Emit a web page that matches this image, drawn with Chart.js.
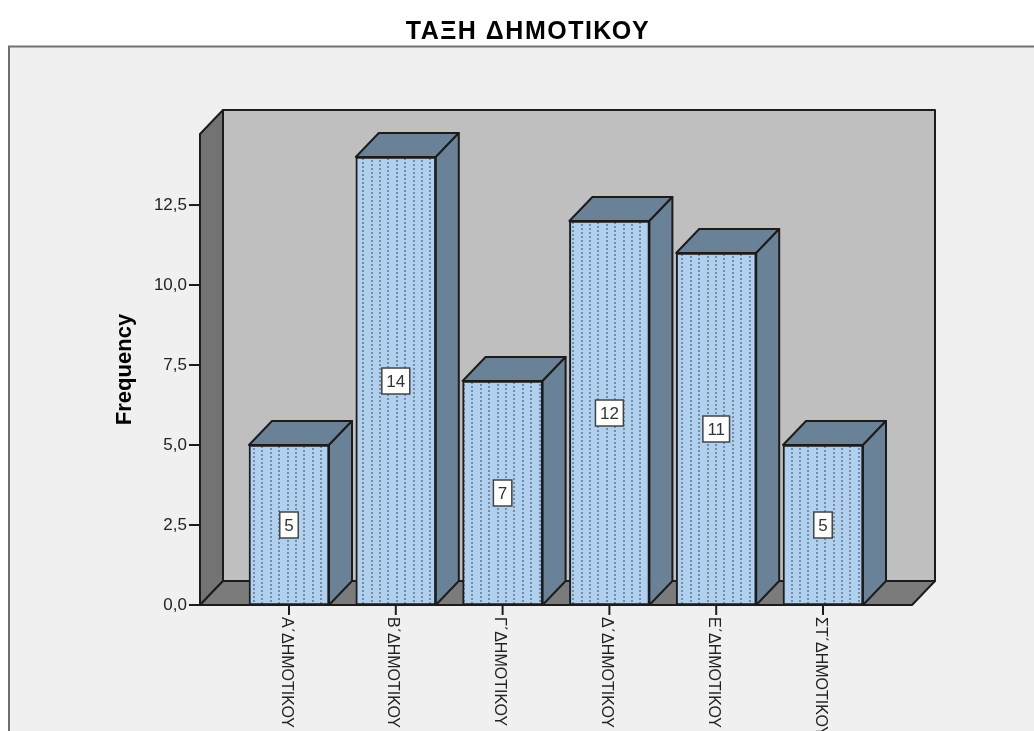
<!DOCTYPE html>
<html lang="el">
<head>
  <meta charset="UTF-8">
  <title>ΤΑΞΗ ΔΗΜΟΤΙΚΟΥ</title>
  <style>
    body { margin: 0; background: #ffffff; overflow: hidden; }
    canvas { display: block; }
  </style>
  <script src="https://cdn.jsdelivr.net/npm/chart.js"></script>
</head>
<body>
  <canvas id="chart" width="1034" height="731"></canvas>
  <script>
    const categories = ['Α΄ΔΗΜΟΤΙΚΟΥ', 'Β΄ΔΗΜΟΤΙΚΟΥ', 'Γ΄ΔΗΜΟΤΙΚΟΥ', 'Δ΄ΔΗΜΟΤΙΚΟΥ', 'Ε΄ΔΗΜΟΤΙΚΟΥ', 'ΣΤ΄ΔΗΜΟΤΙΚΟΥ'];
    const frequencies = [5, 14, 7, 12, 11, 5];
    const yTicks = [0, 2.5, 5, 7.5, 10, 12.5];
    const yMax = 14.72;

    const fontFamily = '"Liberation Sans", Arial, sans-serif';
    const ink = '#1c1c1c';
    const depthX = 23, depthY = 24, wallInset = 35.6;

    // dotted fill of the bar fronts
    function dotPattern(ctx) {
      const tile = document.createElement('canvas');
      tile.width = 42;
      tile.height = 8;
      const t = tile.getContext('2d');
      t.fillStyle = '#afd1ef';
      t.fillRect(0, 0, 42, 8);
      t.fillStyle = '#7a8ca0';
      [1, 9, 18, 26, 35].forEach((x, i) => {
        const off = i % 2 ? 2 : 0;
        t.fillRect(x, off, 2, 2);
        t.fillRect(x, off + 4, 2, 2);
      });
      return ctx.createPattern(tile, 'repeat');
    }

    function poly(ctx, pts, fill) {
      ctx.beginPath();
      pts.forEach((p, i) => i ? ctx.lineTo(p[0], p[1]) : ctx.moveTo(p[0], p[1]));
      ctx.closePath();
      ctx.fillStyle = fill;
      ctx.fill();
      ctx.stroke();
    }

    const panelPlugin = {
      id: 'panel',
      afterLayout(chart) {
        // the title in the picture is set wider than the font's own spacing
        const block = chart.titleBlock;
        const drawTitle = block.draw;
        block.draw = function () {
          chart.ctx.letterSpacing = '1.5px';
          drawTitle.call(block);
          chart.ctx.letterSpacing = '0px';
        };
      },
      beforeDraw(chart) {
        const ctx = chart.ctx;
        ctx.save();
        ctx.fillStyle = '#f0f0f0';
        ctx.fillRect(9, 46, 1040, 700);
        ctx.strokeStyle = '#707070';
        ctx.lineWidth = 2;
        ctx.strokeRect(9, 46.5, 1040, 700);
        ctx.restore();
      }
    };

    const box3dPlugin = {
      id: 'box3d',
      beforeDatasetsDraw(chart) {
        const ctx = chart.ctx;
        const a = chart.chartArea;
        const yScale = chart.scales.y;
        const xScale = chart.scales.x;
        const y0 = yScale.getPixelForValue(0);
        const yTop = yScale.getPixelForValue(yMax);
        const l = a.left - wallInset, r = a.right + wallInset;

        ctx.save();
        ctx.strokeStyle = ink;
        ctx.lineWidth = 2;
        ctx.lineJoin = 'round';

        // back wall, left wall, floor
        poly(ctx, [[l + depthX, yTop - depthY], [r + depthX, yTop - depthY], [r + depthX, y0 - depthY], [l + depthX, y0 - depthY]], '#bfbfbf');
        poly(ctx, [[l, yTop], [l + depthX, yTop - depthY], [l + depthX, y0 - depthY], [l, y0]], '#737373');
        poly(ctx, [[l, y0], [l + depthX, y0 - depthY], [r + depthX, y0 - depthY], [r, y0]], '#7b7b7b');

        // axis ticks
        yTicks.forEach(v => {
          const py = yScale.getPixelForValue(v);
          ctx.beginPath();
          ctx.moveTo(l - 11, py);
          ctx.lineTo(l, py);
          ctx.stroke();
        });
        categories.forEach((c, i) => {
          const px = xScale.getPixelForValue(i);
          ctx.beginPath();
          ctx.moveTo(px, y0);
          ctx.lineTo(px, y0 + 10);
          ctx.stroke();
        });

        // bar tops and right sides
        chart.getDatasetMeta(0).data.forEach(bar => {
          const right = bar.x + bar.width / 2, left = bar.x - bar.width / 2;
          poly(ctx, [[left, bar.y], [left + depthX, bar.y - depthY], [right + depthX, bar.y - depthY], [right, bar.y]], '#6a8298');
          poly(ctx, [[right, bar.y], [right + depthX, bar.y - depthY], [right + depthX, y0 - depthY], [right, y0]], '#6a8298');
        });
        ctx.restore();
      }
    };

    const valueBoxPlugin = {
      id: 'valueBox',
      afterDatasetsDraw(chart) {
        const ctx = chart.ctx;
        const y0 = chart.scales.y.getPixelForValue(0);
        ctx.save();
        ctx.font = '17px ' + fontFamily;
        ctx.textAlign = 'center';
        ctx.textBaseline = 'middle';
        chart.getDatasetMeta(0).data.forEach((bar, i) => {
          const text = String(frequencies[i]);
          const w = ctx.measureText(text).width + 9;
          const cy = (bar.y + y0) / 2;
          ctx.fillStyle = '#ffffff';
          ctx.strokeStyle = '#444444';
          ctx.lineWidth = 1.5;
          ctx.fillRect(bar.x - w / 2, cy - 13, w, 26);
          ctx.strokeRect(bar.x - w / 2, cy - 13, w, 26);
          ctx.fillStyle = '#333333';
          ctx.fillText(text, bar.x, cy + 1);
        });
        ctx.restore();
      }
    };

    const ctx = document.getElementById('chart').getContext('2d');
    new Chart(ctx, {
      type: 'bar',
      data: {
        labels: categories,
        datasets: [{
          data: frequencies,
          backgroundColor: dotPattern(ctx),
          borderColor: ink,
          borderWidth: 2,
          borderSkipped: false,
          barThickness: 80
        }]
      },
      options: {
        responsive: false,
        animation: false,
        layout: { padding: { left: 22 } },
        plugins: {
          legend: { display: false },
          tooltip: { enabled: false },
          title: {
            display: true,
            text: 'ΤΑΞΗ ΔΗΜΟΤΙΚΟΥ',
            color: '#000000',
            font: { family: fontFamily, size: 25, weight: 'bold' },
            padding: { top: 17, bottom: 87 }
          }
        },
        scales: {
          x: {
            grid: { display: false, drawTicks: false },
            border: { display: false },
            ticks: {
              autoSkip: false,
              minRotation: -90,
              maxRotation: -90,
              padding: 12,
              labelOffset: -3,
              color: '#222222',
              font: { family: fontFamily, size: 16 }
            },
            afterFit: s => {
              s.height = 126;
              // labels read downwards from the axis, so they start at the tick
              s._getXAxisLabelAlignment = () => 'left';
            }
          },
          y: {
            min: 0,
            max: yMax,
            grid: { display: false, drawTicks: false },
            border: { display: false },
            afterBuildTicks: s => { s.ticks = yTicks.map(value => ({ value })); },
            ticks: {
              padding: 48.6,
              color: '#222222',
              font: { family: fontFamily, size: 17 },
              callback: v => v.toFixed(1).replace('.', ',')
            },
            title: {
              display: true,
              text: 'Frequency',
              color: '#000000',
              font: { family: fontFamily, size: 22, weight: 'bold' },
              padding: { top: 90, bottom: 0 }
            },
            afterFit: s => { s.width = 213.6; }
          },
          // empty axis that only reserves the space right of the bars
          spacer: {
            position: 'right',
            grid: { display: false, drawTicks: false },
            border: { display: false },
            ticks: { display: false },
            afterFit: s => { s.width = 157.6; }
          }
        }
      },
      plugins: [panelPlugin, box3dPlugin, valueBoxPlugin]
    });
  </script>
</body>
</html>
